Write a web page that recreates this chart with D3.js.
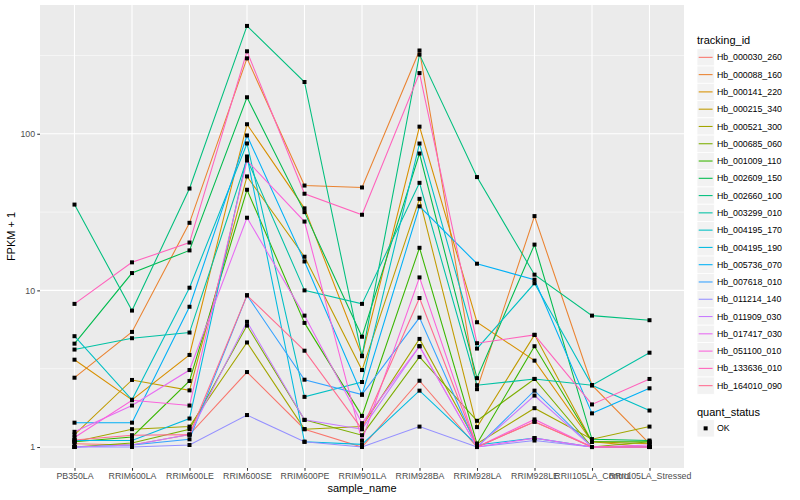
<!DOCTYPE html>
<html><head><meta charset="utf-8">
<script src="https://cdn.jsdelivr.net/npm/d3@7"></script>
<style>body{margin:0;background:#fff}text{font-family:"Liberation Sans",Arial,sans-serif}</style>
</head><body>
<svg id="chart" width="800" height="500"></svg>
<script>
// ---- data ----
const samples = ["PB350LA","RRIM600LA","RRIM600LE","RRIM600SE","RRIM600PE","RRIM901LA","RRIM928BA","RRIM928LA","RRIM928LE","RRII105LA_Control","RRII105LA_Stressed"];
const trackingIds = ["Hb_000030_260","Hb_000088_160","Hb_000141_220","Hb_000215_340","Hb_000521_300","Hb_000685_060","Hb_001009_110","Hb_002609_150","Hb_002660_100","Hb_003299_010","Hb_004195_170","Hb_004195_190","Hb_005736_070","Hb_007618_010","Hb_011214_140","Hb_011909_030","Hb_017417_030","Hb_051100_010","Hb_133636_010","Hb_164010_090"];
const seriesColors = ["#F8766D","#EA8331","#D89000","#C09B00","#A3A500","#7CAE00","#39B600","#00BB4E","#00BF7D","#00C1A3","#00BFC4","#00BAE0","#00B0F6","#35A2FF","#9590FF","#C77CFF","#E76BF3","#FA62DB","#FF62BC","#FF6C90"];
const yTicks = [1, 10, 100];
const yMinor = [Math.sqrt(10), Math.sqrt(1000), Math.sqrt(100000)];

const hb_000030_260 = [1.05, 1.03, 1.20, 3.01, 1.30, 1.00, 2.65, 1.00, 1.45, 1.00, 1.00];
const hb_000088_160 = [2.77, 5.43, 27.0, 303, 46.7, 45.4, 340, 2.34, 29.8, 2.48, 1.05];
const hb_000141_220 = [3.61, 2.00, 3.87, 115, 33.4, 3.83, 111, 6.26, 3.56, 1.08, 1.00];
const hb_000215_340 = [1.20, 2.68, 2.30, 53.4, 16.4, 3.10, 38.4, 1.34, 5.20, 1.08, 1.05];
const hb_000521_300 = [1.08, 1.30, 1.35, 4.65, 1.30, 1.35, 4.90, 1.05, 1.77, 1.12, 1.35];
const hb_000685_060 = [1.00, 1.06, 1.30, 5.96, 1.49, 1.19, 3.76, 1.47, 2.72, 1.00, 1.08];
const hb_001009_110 = [1.08, 1.16, 2.64, 43.9, 6.20, 1.58, 18.7, 1.05, 4.40, 1.08, 1.08];
const hb_002609_150 = [4.57, 12.9, 18.0, 171, 31.6, 5.06, 74.8, 2.75, 19.6, 1.12, 1.10];
const hb_002660_100 = [35.3, 7.43, 44.7, 488, 214, 3.80, 320, 52.9, 12.6, 6.90, 6.45];
const hb_003299_010 = [4.19, 4.95, 5.38, 69.0, 10.0, 8.20, 48.6, 2.48, 2.72, 2.48, 4.00];
const hb_004195_170 = [5.10, 2.00, 10.4, 86.7, 2.09, 2.60, 86.6, 4.25, 11.1, 2.48, 1.71];
const hb_004195_190 = [1.10, 1.10, 1.52, 71.6, 1.08, 1.04, 2.29, 1.03, 1.14, 1.00, 1.00];
const hb_005736_070 = [1.43, 1.43, 7.86, 97.5, 15.3, 2.16, 34.4, 14.8, 11.7, 1.64, 2.37];
const hb_007618_010 = [1.00, 1.03, 1.12, 9.30, 2.69, 2.16, 6.70, 1.00, 2.29, 1.00, 1.00];
const hb_011214_140 = [1.00, 1.00, 1.03, 1.60, 1.08, 1.00, 1.35, 1.00, 1.10, 1.00, 1.00];
const hb_011909_030 = [1.00, 1.03, 1.20, 6.30, 1.49, 1.30, 4.40, 1.00, 2.13, 1.00, 1.00];
const hb_017417_030 = [1.25, 1.84, 3.10, 29.1, 6.90, 1.42, 4.40, 1.00, 1.14, 1.00, 1.03];
const hb_051100_010 = [1.15, 1.99, 1.84, 67.5, 27.5, 1.10, 12.1, 1.00, 1.50, 1.00, 1.00];
const hb_133636_010 = [8.20, 15.1, 20.2, 336, 41.4, 30.4, 244, 4.60, 5.20, 1.87, 2.72];
const hb_164010_090 = [1.11, 1.19, 1.20, 9.30, 4.12, 1.30, 8.94, 1.00, 1.45, 1.00, 1.00];

const seriesValues = [hb_000030_260, hb_000088_160, hb_000141_220, hb_000215_340, hb_000521_300,
  hb_000685_060, hb_001009_110, hb_002609_150, hb_002660_100, hb_003299_010, hb_004195_170,
  hb_004195_190, hb_005736_070, hb_007618_010, hb_011214_140, hb_011909_030, hb_017417_030,
  hb_051100_010, hb_133636_010, hb_164010_090];

// ---- layout ----
const svg = d3.select("#chart");
const P = {left: 40, right: 684, top: 5, bottom: 468};
const x = d3.scalePoint().domain(samples).range([P.left, P.right]).padding(0.6);
const y = d3.scaleLog().domain([Math.pow(10, -0.134), Math.pow(10, 2.822)]).range([P.bottom, P.top]);

svg.append("rect").attr("width", 800).attr("height", 500).attr("fill", "#fff");
svg.append("rect").attr("x", P.left).attr("y", P.top).attr("width", P.right - P.left)
  .attr("height", P.bottom - P.top).attr("fill", "#EBEBEB");

const grid = svg.append("g");
grid.selectAll(".minor").data(yMinor).join("line")
  .attr("x1", P.left).attr("x2", P.right).attr("y1", d => y(d)).attr("y2", d => y(d))
  .attr("stroke", "#fff").attr("stroke-width", 0.55);
grid.selectAll(".majy").data(yTicks).join("line")
  .attr("x1", P.left).attr("x2", P.right).attr("y1", d => y(d)).attr("y2", d => y(d))
  .attr("stroke", "#fff").attr("stroke-width", 1.1);
grid.selectAll(".majx").data(samples).join("line")
  .attr("y1", P.top).attr("y2", P.bottom).attr("x1", d => x(d)).attr("x2", d => x(d))
  .attr("stroke", "#fff").attr("stroke-width", 1.1);

// lines
const line = d3.line().x((d, i) => x(samples[i])).y(d => y(d));
const lg = svg.append("g");
seriesValues.forEach((vals, k) => {
  lg.append("path").attr("d", line(vals)).attr("fill", "none")
    .attr("stroke", seriesColors[k]).attr("stroke-width", 1.07);
});
// points
const pg = svg.append("g");
seriesValues.forEach(vals => {
  pg.selectAll(null).data(vals).join("rect")
    .attr("x", (d, i) => x(samples[i]) - 2).attr("y", d => y(d) - 2)
    .attr("width", 4).attr("height", 4).attr("fill", "#000");
});

// axes
const xAxis = svg.append("g").attr("transform", `translate(0,${P.bottom})`)
  .call(d3.axisBottom(x).tickSize(2.75).tickPadding(2.2));
const yAxis = svg.append("g").attr("transform", `translate(${P.left},0)`)
  .call(d3.axisLeft(y).tickValues(yTicks).tickFormat(d3.format("d")).tickSize(2.75).tickPadding(2.2));
[xAxis, yAxis].forEach(a => {
  a.select(".domain").remove();
  a.selectAll(".tick line").attr("stroke", "#333").attr("stroke-width", 1.07);
  a.selectAll(".tick text").attr("fill", "#4D4D4D").style("font-size", "8.8px")
    .style("font-family", "'Liberation Sans',Arial,sans-serif");
});

svg.append("text").attr("x", (P.left + P.right) / 2).attr("y", 492).attr("text-anchor", "middle")
  .style("font-size", "11px").attr("fill", "#000").text("sample_name");
svg.append("text").attr("transform", `translate(15,${(P.top + P.bottom) / 2}) rotate(-90)`)
  .attr("text-anchor", "middle").style("font-size", "11px").attr("fill", "#000").text("FPKM + 1");

// legend
const L = svg.append("g");
const lx = 697, ky0 = 48.7, kh = 17.28;
L.append("text").attr("x", lx).attr("y", 44).style("font-size", "11px").text("tracking_id");
trackingIds.forEach((id, i) => {
  const yy = ky0 + i * kh;
  L.append("rect").attr("x", lx).attr("y", yy).attr("width", kh).attr("height", kh)
    .attr("fill", "#F2F2F2").attr("stroke", "#fff").attr("stroke-width", 0.8);
  L.append("line").attr("x1", lx + 1.7).attr("x2", lx + kh - 1.7).attr("y1", yy + kh / 2).attr("y2", yy + kh / 2)
    .attr("stroke", seriesColors[i]).attr("stroke-width", 1.07);
  L.append("text").attr("x", lx + kh + 2.6).attr("y", yy + kh / 2 + 3.1)
    .style("font-size", "8.8px").attr("fill", "#000").text(id);
});
L.append("text").attr("x", lx).attr("y", 416).style("font-size", "11px").text("quant_status");
L.append("rect").attr("x", lx).attr("y", 419.7).attr("width", kh).attr("height", kh)
  .attr("fill", "#F2F2F2").attr("stroke", "#fff").attr("stroke-width", 0.8);
L.append("rect").attr("x", lx + kh / 2 - 2).attr("y", 419.7 + kh / 2 - 2).attr("width", 4).attr("height", 4).attr("fill", "#000");
L.append("text").attr("x", lx + kh + 2.6).attr("y", 419.7 + kh / 2 + 3.1)
  .style("font-size", "8.8px").attr("fill", "#000").text("OK");
</script>
</body></html>
